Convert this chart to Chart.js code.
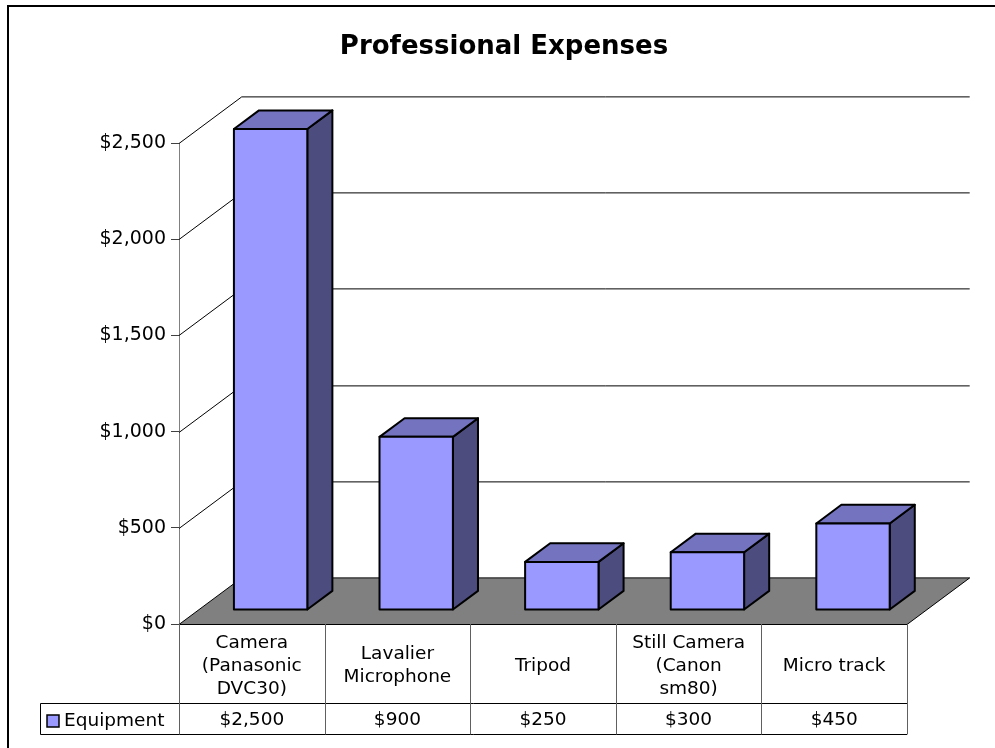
<!DOCTYPE html>
<html>
<head>
<meta charset="utf-8">
<title>Professional Expenses</title>
<script src="https://cdn.jsdelivr.net/npm/chart.js@4.4.1/dist/chart.umd.min.js"></script>
<style>
  html, body { margin: 0; padding: 0; background: #fff; }
  #chart { display: block; }
</style>
</head>
<body>
<canvas id="chart" width="995" height="748"></canvas>
<script>
const chartTitle = 'Professional Expenses';
const seriesName = 'Equipment';
const categories = [
    ['Camera', '(Panasonic', 'DVC30)'],
    ['Lavalier', 'Microphone'],
    ['Tripod'],
    ['Still Camera', '(Canon', 'sm80)'],
    ['Micro track']
];
const equipmentValues = [2500, 900, 250, 300, 450];
const yTicks = [0, 500, 1000, 1500, 2000, 2500];

const FONT = '"DejaVu Sans", Verdana, sans-serif';
const FRONT = '#9999FF';
const TOP = '#7373C0';
const SIDE = '#4C4C7F';
// depth of the 3d box (floor / walls)
const DX = 62.7, DY = -46.6;

function money(v) {
    return '$' + v.toLocaleString('en-US');
}

const box3d = {
    id: 'box3d',
    beforeDatasetsDraw(chart) {
        const ctx = chart.ctx;
        const y = chart.scales.y;
        const L = chart.chartArea.left, R = chart.chartArea.right;
        ctx.save();
        // side wall + back wall gridlines
        ctx.strokeStyle = '#000';
        ctx.lineWidth = 1;
        yTicks.forEach(v => {
            if (v === 0) return;
            const py = Math.round(y.getPixelForValue(v)) + 0.5;
            ctx.beginPath();
            ctx.moveTo(L, py);
            ctx.lineTo(L + DX, py + DY);
            ctx.lineTo(R + DX, py + DY);
            ctx.stroke();
        });
        // floor
        const b = Math.round(y.getPixelForValue(0)) + 0.5;
        ctx.beginPath();
        ctx.moveTo(L, b);
        ctx.lineTo(R, b);
        ctx.lineTo(R + DX, b + DY);
        ctx.lineTo(L + DX, b + DY);
        ctx.closePath();
        ctx.fillStyle = '#808080';
        ctx.fill();
        ctx.stroke();
        ctx.restore();
    },
    afterDatasetsDraw(chart) {
        const ctx = chart.ctx;
        const meta = chart.getDatasetMeta(0);
        ctx.save();
        ctx.lineWidth = 2;
        ctx.lineJoin = 'round';
        ctx.strokeStyle = '#000';
        meta.data.forEach(el => {
            const f = 0.3, d = 0.4;
            const x0 = el.x - el.width / 2 + f * DX;
            const x1 = el.x + el.width / 2 + f * DX;
            const yt = el.y + f * DY;
            const yb = el.base + f * DY;
            const ddx = d * DX, ddy = d * DY;
            // side
            ctx.beginPath();
            ctx.moveTo(x1, yt);
            ctx.lineTo(x1 + ddx, yt + ddy);
            ctx.lineTo(x1 + ddx, yb + ddy);
            ctx.lineTo(x1, yb);
            ctx.closePath();
            ctx.fillStyle = SIDE;
            ctx.fill();
            ctx.stroke();
            // top
            ctx.beginPath();
            ctx.moveTo(x0, yt);
            ctx.lineTo(x0 + ddx, yt + ddy);
            ctx.lineTo(x1 + ddx, yt + ddy);
            ctx.lineTo(x1, yt);
            ctx.closePath();
            ctx.fillStyle = TOP;
            ctx.fill();
            ctx.stroke();
            // front
            ctx.fillStyle = FRONT;
            ctx.fillRect(x0, yt, x1 - x0, yb - yt);
            ctx.strokeRect(x0, yt, x1 - x0, yb - yt);
        });
        ctx.restore();
    },
    afterDraw(chart) {
        const ctx = chart.ctx;
        const x = chart.scales.x;
        const L = chart.chartArea.left, R = chart.chartArea.right;
        const top = chart.chartArea.bottom;
        const mid = 703.5, bot = 734.5, legL = 40.5;
        const cw = (R - L) / categories.length;
        ctx.save();

        // data table lines
        ctx.lineWidth = 1;
        ctx.strokeStyle = '#000';
        ctx.beginPath();
        ctx.moveTo(L, Math.round(top) + 0.5); ctx.lineTo(R, Math.round(top) + 0.5);
        ctx.moveTo(legL, mid); ctx.lineTo(R, mid);
        ctx.moveTo(legL, bot); ctx.lineTo(R, bot);
        ctx.moveTo(legL, mid); ctx.lineTo(legL, bot);
        ctx.stroke();
        ctx.strokeStyle = '#606060';
        ctx.beginPath();
        for (let i = 0; i <= categories.length; i++) {
            const px = Math.round(L + i * cw) + 0.5;
            ctx.moveTo(px, top);
            ctx.lineTo(px, bot);
        }
        ctx.stroke();

        // category labels + values
        ctx.fillStyle = '#000';
        ctx.textAlign = 'center';
        ctx.textBaseline = 'middle';
        ctx.font = '18.5px ' + FONT;
        const lh = 23.3;
        categories.forEach((lines, i) => {
            const cx = x.getPixelForValue(i);
            const cy = 666;
            lines.forEach((t, j) => {
                ctx.fillText(t, cx, cy + (j - (lines.length - 1) / 2) * lh);
            });
            ctx.fillText(money(equipmentValues[i]), cx, 720.5);
        });

        // legend key
        ctx.fillStyle = FRONT;
        ctx.fillRect(47, 715, 12, 12);
        ctx.strokeStyle = '#000';
        ctx.lineWidth = 1.5;
        ctx.strokeRect(47, 715, 12, 12);
        ctx.fillStyle = '#000';
        ctx.textAlign = 'left';
        ctx.fillText(seriesName, 64, 721);

        // title
        ctx.font = 'bold 26px ' + FONT;
        ctx.textAlign = 'center';
        ctx.fillText(chartTitle, 504, 47);

        // outer frame
        ctx.lineWidth = 2;
        ctx.strokeStyle = '#000';
        ctx.beginPath();
        ctx.moveTo(8, 760);
        ctx.lineTo(8, 6);
        ctx.lineTo(1000, 6);
        ctx.stroke();
        ctx.restore();
    }
};

const bgWhite = {
    id: 'bgWhite',
    beforeDraw(chart) {
        const ctx = chart.ctx;
        ctx.save();
        ctx.fillStyle = '#fff';
        ctx.fillRect(0, 0, chart.width, chart.height);
        ctx.restore();
    }
};

const ctx = document.getElementById('chart').getContext('2d');
const chart = new Chart(ctx, {
    type: 'bar',
    data: {
        labels: categories,
        datasets: [{
            label: seriesName,
            data: equipmentValues,
            backgroundColor: 'rgba(0,0,0,0)',
            borderWidth: 0,
            categoryPercentage: 1,
            barPercentage: 0.504
        }]
    },
    options: {
        responsive: false,
        animation: false,
        layout: {
            padding: { left: 0, right: 88, top: 143, bottom: 124 }
        },
        plugins: {
            legend: { display: false },
            title: { display: false },
            tooltip: { enabled: false }
        },
        scales: {
            x: {
                display: false
            },
            y: {
                min: 0,
                max: 2500,
                afterFit(scale) { scale.width = 179; },
                ticks: {
                    stepSize: 500,
                    padding: 5,
                    color: '#000',
                    font: { family: FONT, size: 19 },
                    callback: v => money(v)
                },
                grid: {
                    drawOnChartArea: false,
                    drawTicks: true,
                    tickLength: 8,
                    color: '#404040'
                },
                border: { display: true, color: '#808080', width: 1 }
            }
        }
    },
    plugins: [bgWhite, box3d]
});
</script>
</body>
</html>
